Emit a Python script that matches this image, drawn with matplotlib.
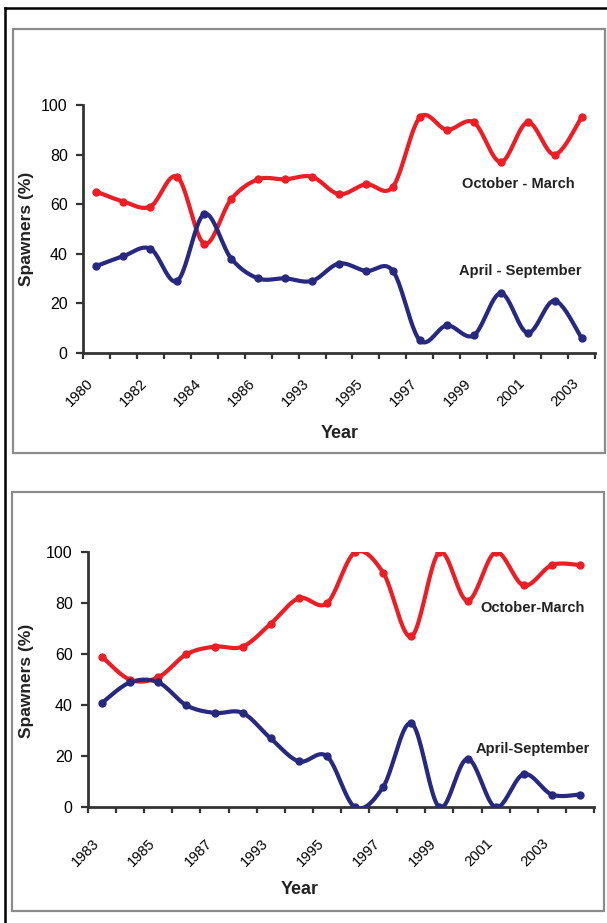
import matplotlib
matplotlib.use("Agg")
import matplotlib.pyplot as plt
import numpy as np
from matplotlib.lines import Line2D
from matplotlib.patches import Rectangle

plt.rcParams['font.family'] = ['Liberation Sans', 'DejaVu Sans']

# Upper panel: share of spawners per season
years_a = ["1980", "1981", "1982", "1983", "1984", "1985", "1986", "1992",
           "1993", "1994", "1995", "1996", "1997", "1998", "1999", "2000",
           "2001", "2002", "2003"]
oct_mar_a = [65, 61, 59, 71, 44, 62, 70, 70, 71, 64, 68, 67,
             95, 90, 93, 77, 93, 80, 95]
apr_sep_a = [35, 39, 42, 29, 56, 38, 30, 30, 29, 36, 33, 33,
             5, 11, 7, 24, 8, 21, 6]

# Lower panel
years_b = ["1983", "1984", "1985", "1986", "1987", "1988", "1993", "1994",
           "1995", "1996", "1997", "1998", "1999", "2000", "2001", "2002",
           "2003", "2004"]
oct_mar_b = [59, 50, 51, 60, 63, 63, 72, 82, 80, 100, 92, 67,
             100, 81, 100, 87, 95, 95]
apr_sep_b = [41, 49, 49, 40, 37, 37, 27, 18, 20, 0, 8, 33,
             0, 19, 0, 13, 5, 5]

RED = '#ec1d25'
BLUE = '#27287f'
W, H = 607, 923


def smooth(x, y, n=24):
    # piecewise cubic bezier through the points (spreadsheet-style smoothing)
    pts = np.column_stack([x, y]).astype(float)
    k = len(pts)
    t = np.linspace(0, 1, n)[:, None]
    segs = []
    for i in range(k - 1):
        p0 = pts[max(i - 1, 0)]
        p1 = pts[i]
        p2 = pts[i + 1]
        p3 = pts[min(i + 2, k - 1)]
        c1 = p1 + (p2 - p0) / 6.0
        c2 = p2 - (p3 - p1) / 6.0
        seg = ((1 - t) ** 3) * p1 + 3 * ((1 - t) ** 2) * t * c1 \
            + 3 * (1 - t) * t ** 2 * c2 + t ** 3 * p2
        segs.append(seg if i == 0 else seg[1:])
    s = np.vstack(segs)
    return s[:, 0], s[:, 1]


def px_axes(fig, left, top, right, bottom):
    return fig.add_axes([left / W, 1 - bottom / H, (right - left) / W, (bottom - top) / H])


def draw_panel(ax, labels, red, blue, lab_pad, red_txt, blue_txt, red_pos, blue_pos):
    n = len(labels)
    x = np.arange(n)
    for vals, col in ((red, RED), (blue, BLUE)):
        sx, sy = smooth(x, vals)
        ax.plot(sx, sy, color=col, lw=3.0, solid_capstyle='round', zorder=3)
        ax.plot(x, vals, 'o', color=col, ms=5, zorder=4)
    ax.set_xlim(-0.5, n - 0.5)
    ax.set_ylim(0, 100)
    ax.set_yticks(np.arange(0, 101, 20))
    ax.set_xticks(np.arange(n + 1) - 0.5)
    ax.set_xticklabels([])
    ax.set_xticks(x[::2], minor=True)
    ax.set_xticklabels(labels[::2], minor=True, rotation=45, ha='right', fontsize=10.5)
    ax.tick_params(axis='x', which='minor', length=0, pad=lab_pad)
    ax.tick_params(axis='x', which='major', direction='out', length=4, width=1.6, color='#333333')
    ax.tick_params(axis='y', direction='out', length=5, width=1.6, color='#333333',
                   labelsize=11.5, pad=6)
    for side in ('top', 'right'):
        ax.spines[side].set_visible(False)
    for side in ('left', 'bottom'):
        ax.spines[side].set_linewidth(2.0)
        ax.spines[side].set_color('#333333')
    ax.set_facecolor('none')
    ax.text(red_pos[0], red_pos[1], red_txt, transform=ax.transAxes, ha='center',
            va='center', fontsize=10.5, fontweight='bold', color='#222222')
    ax.text(blue_pos[0], blue_pos[1], blue_txt, transform=ax.transAxes, ha='center',
            va='center', fontsize=10.5, fontweight='bold', color='#222222')


fig = plt.figure(figsize=(W / 100, H / 100), dpi=100)
fig.patch.set_facecolor('white')

# outer frame (left and top edges) and the two grey panel boxes
fig.add_artist(Line2D([4.5 / W, 4.5 / W], [0, 1 - 8 / H], color='black', lw=1.8))
fig.add_artist(Line2D([4.5 / W, 1], [1 - 8 / H, 1 - 8 / H], color='black', lw=1.8))
fig.add_artist(Rectangle((13 / W, 1 - 453 / H), (605 - 13) / W, (453 - 29) / H,
                         transform=fig.transFigure, fill=False, ec='#8c8c8c', lw=1.6))
fig.add_artist(Rectangle((12 / W, 1 - 911 / H), (604 - 12) / W, (911 - 492) / H,
                         transform=fig.transFigure, fill=False, ec='#8c8c8c', lw=1.6))

ax1 = px_axes(fig, 83, 105, 595, 352.7)
draw_panel(ax1, years_a, oct_mar_a, apr_sep_a, 17,
           "October - March", "April - September", (0.85, 0.68), (0.855, 0.33))

ax2 = px_axes(fig, 88, 552.3, 594, 807.3)
draw_panel(ax2, years_b, oct_mar_b, apr_sep_b, 21,
           "October-March", "April-September", (0.879, 0.782), (0.879, 0.228))

for yc in (229, 681):
    fig.text(27 / W, 1 - yc / H, "Spawners (%)", rotation=90, ha='center', va='center',
             fontsize=12.5, fontweight='bold', color='#222222')
fig.text(340 / W, 1 - 434 / H, "Year", ha='center', va='center',
         fontsize=13, fontweight='bold', color='#222222')
fig.text(300 / W, 1 - 890 / H, "Year", ha='center', va='center',
         fontsize=13, fontweight='bold', color='#222222')

fig.savefig("out.png", dpi=100)
